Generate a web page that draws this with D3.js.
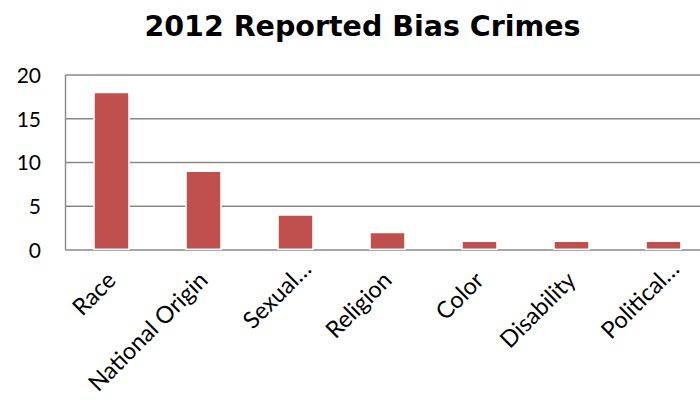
<!DOCTYPE html>
<html><head><meta charset="utf-8">
<script src="https://cdn.jsdelivr.net/npm/d3@7"></script>
<style>body{margin:0;background:#fff}svg{display:block}</style>
</head><body>
<script>
const categories = ["Race","National Origin","Sexual…","Religion","Color","Disability","Political…"];
const values = [18, 9, 4, 2, 1, 1, 1];
const yTicks = [0, 5, 10, 15, 20];
const title = "2012 Reported Bias Crimes";

const W = 700, H = 400;
const svg = d3.select("body").append("svg").attr("width", W).attr("height", H);
const x = d3.scaleBand().domain(categories).range([65.5, 709.5]).paddingInner(0.62).paddingOuter(0.31);
const y = d3.scaleLinear().domain([0, 20]).range([250, 75]);

svg.append("text").attr("x", 362.5).attr("y", 36).attr("text-anchor", "middle")
  .style("font-family", "DejaVu Sans").style("font-weight", "bold").style("font-size", "28.5px")
  .attr("fill", "#000").text(title);

const grid = svg.append("g");
grid.selectAll("line").data(yTicks).join("line")
  .attr("x1", 65.5).attr("x2", 709.5).attr("y1", d => y(d)).attr("y2", d => y(d))
  .attr("stroke", "#888").attr("stroke-width", 1.4);
svg.append("line").attr("x1", 65.5).attr("x2", 65.5).attr("y1", y(20)).attr("y2", y(0))
  .attr("stroke", "#888").attr("stroke-width", 1.4);

svg.append("g").selectAll("rect").data(values).join("rect")
  .attr("x", (d, i) => x(categories[i])).attr("width", x.bandwidth())
  .attr("y", d => y(d)).attr("height", d => y(0) - y(d) - 0.7)
  .attr("fill", "#C0504D").attr("stroke", "#fff").attr("stroke-width", 1.5);

const yAxis = d3.axisLeft(y).tickValues(yTicks).tickSize(0).tickPadding(0);
const ga = svg.append("g").attr("transform", "translate(41,0)").call(yAxis);
ga.select(".domain").remove();
ga.selectAll("text").style("font-family", "Lato").style("font-size", "21px").attr("fill", "#000").attr("dy", "0.35em");

const xAxis = d3.axisBottom(x).tickSize(0).tickPadding(0);
const gx = svg.append("g").attr("transform", "translate(0,276)").call(xAxis);
gx.select(".domain").remove();
gx.selectAll("text").style("font-family", "Lato").style("font-size", "23.5px").attr("fill", "#000")
  .attr("text-anchor", "end").attr("dy", "0.35em").attr("y", 0)
  .attr("x", d => d.endsWith("…") ? 16 : 0)
  .attr("transform", "rotate(-45)");
</script>
</body></html>
